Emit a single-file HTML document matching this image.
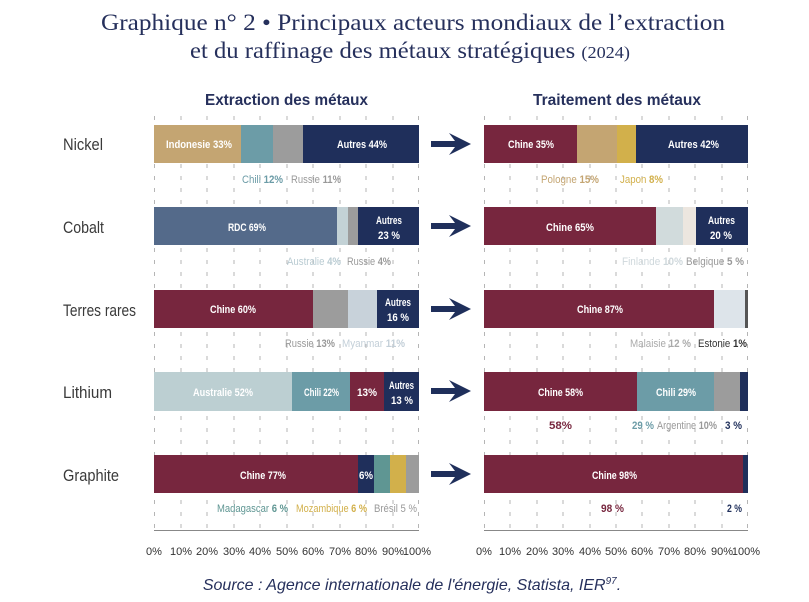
<!DOCTYPE html>
<html><head><meta charset="utf-8"><style>
body{margin:0;background:#fff}
svg{display:block}
.t{font-family:"Liberation Serif",serif;fill:#26305c;font-size:23px}
.h{font-family:"Liberation Sans",sans-serif;font-weight:bold;fill:#26305c;font-size:16px}
.r{font-family:"Liberation Sans",sans-serif;fill:#3a3a3a;font-size:17px}
.b{font-family:"Liberation Sans",sans-serif;fill:#fff;font-size:11px;font-weight:bold}
.a{font-family:"Liberation Sans",sans-serif;font-size:11px}
.a tspan.k{font-weight:bold}
.x{font-family:"Liberation Sans",sans-serif;font-size:11px;fill:#333}
.s{font-family:"Liberation Sans",sans-serif;font-style:italic;fill:#26305c;font-size:16px}
</style></head><body>
<svg width="809" height="602" viewBox="0 0 809 602" xmlns="http://www.w3.org/2000/svg">
<text class="t" x="101" y="30" textLength="624" lengthAdjust="spacingAndGlyphs">Graphique n° 2 • Principaux acteurs mondiaux de l’extraction</text>
<text class="t" x="190" y="58" textLength="440" lengthAdjust="spacingAndGlyphs">et du raffinage des métaux stratégiques <tspan font-size="17">(2024)</tspan></text>
<text class="h" x="205" y="105" textLength="163" lengthAdjust="spacingAndGlyphs">Extraction des métaux</text>
<text class="h" x="533" y="105" textLength="168" lengthAdjust="spacingAndGlyphs">Traitement des métaux</text>

<g stroke="#b5b5b5" stroke-width="1" stroke-dasharray="4,8">
<line x1="154.5" y1="116" x2="154.5" y2="530"/><line x1="181" y1="116" x2="181" y2="530"/><line x1="207" y1="116" x2="207" y2="530"/><line x1="234" y1="116" x2="234" y2="530"/><line x1="260" y1="116" x2="260" y2="530"/><line x1="287" y1="116" x2="287" y2="530"/><line x1="313" y1="116" x2="313" y2="530"/><line x1="340" y1="116" x2="340" y2="530"/><line x1="366" y1="116" x2="366" y2="530"/><line x1="393" y1="116" x2="393" y2="530"/><line x1="418.5" y1="116" x2="418.5" y2="530"/>
<line x1="484.5" y1="116" x2="484.5" y2="530"/><line x1="510" y1="116" x2="510" y2="530"/><line x1="537" y1="116" x2="537" y2="530"/><line x1="563" y1="116" x2="563" y2="530"/><line x1="590" y1="116" x2="590" y2="530"/><line x1="616" y1="116" x2="616" y2="530"/><line x1="642" y1="116" x2="642" y2="530"/><line x1="669" y1="116" x2="669" y2="530"/><line x1="695" y1="116" x2="695" y2="530"/><line x1="722" y1="116" x2="722" y2="530"/><line x1="747.5" y1="116" x2="747.5" y2="530"/>
</g>
<g stroke="#888" stroke-width="1">
<line x1="154" y1="530.5" x2="419" y2="530.5"/><line x1="484" y1="530.5" x2="748" y2="530.5"/>
</g>

<text class="r" x="63" y="150" textLength="40" lengthAdjust="spacingAndGlyphs">Nickel</text>
<text class="r" x="63" y="233" textLength="41" lengthAdjust="spacingAndGlyphs">Cobalt</text>
<text class="r" x="63" y="316" textLength="73" lengthAdjust="spacingAndGlyphs">Terres rares</text>
<text class="r" x="63" y="398" textLength="49" lengthAdjust="spacingAndGlyphs">Lithium</text>
<text class="r" x="63" y="481" textLength="56" lengthAdjust="spacingAndGlyphs">Graphite</text>

<!-- Nickel -->
<rect x="154" y="125" width="87" height="38" fill="#c4a572"/><rect x="241" y="125" width="32" height="38" fill="#6c9ca7"/><rect x="273" y="125" width="30" height="38" fill="#9c9c9c"/><rect x="303" y="125" width="116" height="38" fill="#1f2f5b"/>
<text class="b" x="166" y="148" textLength="66" lengthAdjust="spacingAndGlyphs">Indonesie 33%</text><text class="b" x="337" y="148" textLength="50" lengthAdjust="spacingAndGlyphs">Autres 44%</text>
<rect x="484" y="125" width="93" height="38" fill="#77263e"/><rect x="577" y="125" width="40" height="38" fill="#c4a572"/><rect x="617" y="125" width="19" height="38" fill="#d2b04b"/><rect x="636" y="125" width="112" height="38" fill="#1f2f5b"/>
<text class="b" x="508" y="148" textLength="46" lengthAdjust="spacingAndGlyphs">Chine 35%</text><text class="b" x="668" y="148" textLength="51" lengthAdjust="spacingAndGlyphs">Autres 42%</text>
<text class="a" x="242" y="183" fill="#6c9ca7" textLength="41" lengthAdjust="spacingAndGlyphs">Chili <tspan class="k">12%</tspan></text><text class="a" x="291" y="183" fill="#999" textLength="50" lengthAdjust="spacingAndGlyphs">Russie <tspan class="k">11%</tspan></text>
<text class="a" x="541" y="183" fill="#c4a572" textLength="58" lengthAdjust="spacingAndGlyphs">Pologne <tspan class="k">15%</tspan></text><text class="a" x="620" y="183" fill="#d2b04b" textLength="43" lengthAdjust="spacingAndGlyphs">Japon <tspan class="k">8%</tspan></text>

<!-- Cobalt -->
<rect x="154" y="207" width="183" height="38" fill="#546a8a"/><rect x="337" y="207" width="11" height="38" fill="#c3d2d6"/><rect x="348" y="207" width="10" height="38" fill="#9c9c9c"/><rect x="358" y="207" width="61" height="38" fill="#1f2f5b"/>
<text class="b" x="228" y="231" textLength="38" lengthAdjust="spacingAndGlyphs">RDC 69%</text><text class="b" x="376" y="224" textLength="26" lengthAdjust="spacingAndGlyphs">Autres</text><text class="b" x="378" y="239" textLength="22" lengthAdjust="spacingAndGlyphs">23 %</text>
<rect x="484" y="207" width="172" height="38" fill="#77263e"/><rect x="656" y="207" width="27" height="38" fill="#d1dbdc"/><rect x="683" y="207" width="13" height="38" fill="#ece6df"/><rect x="696" y="207" width="52" height="38" fill="#1f2f5b"/>
<text class="b" x="546" y="231" textLength="48" lengthAdjust="spacingAndGlyphs">Chine 65%</text><text class="b" x="708" y="224" textLength="27" lengthAdjust="spacingAndGlyphs">Autres</text><text class="b" x="710" y="239" textLength="22" lengthAdjust="spacingAndGlyphs">20 %</text>
<text class="a" x="287" y="265" fill="#b9cbd2" textLength="54" lengthAdjust="spacingAndGlyphs">Australie <tspan class="k">4%</tspan></text><text class="a" x="347" y="265" fill="#999" textLength="44" lengthAdjust="spacingAndGlyphs">Russie <tspan class="k">4%</tspan></text>
<text class="a" x="622" y="265" fill="#cfd8dc" textLength="61" lengthAdjust="spacingAndGlyphs">Finlande <tspan class="k">10%</tspan></text><text class="a" x="686" y="265" fill="#999" textLength="58" lengthAdjust="spacingAndGlyphs">Belgique <tspan class="k">5 %</tspan></text>

<!-- Terres rares -->
<rect x="154" y="290" width="159" height="38" fill="#77263e"/><rect x="313" y="290" width="35" height="38" fill="#9c9c9c"/><rect x="348" y="290" width="29" height="38" fill="#c8d2da"/><rect x="377" y="290" width="42" height="38" fill="#1f2f5b"/>
<text class="b" x="210" y="313" textLength="46" lengthAdjust="spacingAndGlyphs">Chine 60%</text><text class="b" x="385" y="306" textLength="26" lengthAdjust="spacingAndGlyphs">Autres</text><text class="b" x="387" y="321" textLength="22" lengthAdjust="spacingAndGlyphs">16 %</text>
<rect x="484" y="290" width="230" height="38" fill="#77263e"/><rect x="714" y="290" width="31" height="38" fill="#dde4ea"/><rect x="745" y="290" width="3" height="38" fill="#555"/>
<text class="b" x="577" y="313" textLength="46" lengthAdjust="spacingAndGlyphs">Chine 87%</text>
<text class="a" x="285" y="347" fill="#999" textLength="50" lengthAdjust="spacingAndGlyphs">Russie <tspan class="k">13%</tspan></text><text class="a" x="342" y="347" fill="#c3cfd8" textLength="63" lengthAdjust="spacingAndGlyphs">Myanmar <tspan class="k">11%</tspan></text>
<text class="a" x="630" y="347" fill="#aaa" textLength="61" lengthAdjust="spacingAndGlyphs">Malaisie <tspan class="k">12 %</tspan></text><text class="a" x="698" y="347" fill="#333" textLength="49" lengthAdjust="spacingAndGlyphs">Estonie <tspan class="k">1%</tspan></text>

<!-- Lithium -->
<rect x="154" y="372" width="138" height="39" fill="#bccfd2"/><rect x="292" y="372" width="58" height="39" fill="#6c9ca7"/><rect x="350" y="372" width="34" height="39" fill="#77263e"/><rect x="384" y="372" width="35" height="39" fill="#1f2f5b"/>
<text class="b" x="193" y="396" textLength="60" lengthAdjust="spacingAndGlyphs">Australie 52%</text><text class="b" x="304" y="396" textLength="35" lengthAdjust="spacingAndGlyphs">Chili 22%</text><text class="b" x="357" y="396" textLength="20" lengthAdjust="spacingAndGlyphs">13%</text><text class="b" x="389" y="389" textLength="25" lengthAdjust="spacingAndGlyphs">Autres</text><text class="b" x="391" y="404" textLength="22" lengthAdjust="spacingAndGlyphs">13 %</text>
<rect x="484" y="372" width="153" height="39" fill="#77263e"/><rect x="637" y="372" width="77" height="39" fill="#6c9ca7"/><rect x="714" y="372" width="26" height="39" fill="#9c9c9c"/><rect x="740" y="372" width="8" height="39" fill="#1f2f5b"/>
<text class="b" x="538" y="396" textLength="45" lengthAdjust="spacingAndGlyphs">Chine 58%</text><text class="b" x="656" y="396" textLength="40" lengthAdjust="spacingAndGlyphs">Chili 29%</text>
<text class="a" x="549" y="429" fill="#77263e" textLength="23" lengthAdjust="spacingAndGlyphs"><tspan class="k">58%</tspan></text><text class="a" x="632" y="429" fill="#6c9ca7" textLength="22" lengthAdjust="spacingAndGlyphs"><tspan class="k">29 %</tspan></text><text class="a" x="657" y="429" fill="#999" textLength="60" lengthAdjust="spacingAndGlyphs">Argentine <tspan class="k">10%</tspan></text><text class="a" x="725" y="429" fill="#1f2f5b" textLength="17" lengthAdjust="spacingAndGlyphs"><tspan class="k">3 %</tspan></text>

<!-- Graphite -->
<rect x="154" y="455" width="204" height="38" fill="#77263e"/><rect x="358" y="455" width="16" height="38" fill="#1f2f5b"/><rect x="374" y="455" width="16" height="38" fill="#5f9693"/><rect x="390" y="455" width="16" height="38" fill="#d2b04b"/><rect x="406" y="455" width="13" height="38" fill="#9c9c9c"/>
<text class="b" x="240" y="479" textLength="46" lengthAdjust="spacingAndGlyphs">Chine 77%</text><text class="b" x="359" y="479" textLength="14" lengthAdjust="spacingAndGlyphs">6%</text>
<rect x="484" y="455" width="259" height="38" fill="#77263e"/><rect x="743" y="455" width="5" height="38" fill="#1f2f5b"/>
<text class="b" x="592" y="479" textLength="45" lengthAdjust="spacingAndGlyphs">Chine 98%</text>
<text class="a" x="217" y="512" fill="#5f9693" textLength="71" lengthAdjust="spacingAndGlyphs">Madagascar <tspan class="k">6 %</tspan></text><text class="a" x="296" y="512" fill="#d2b04b" textLength="71" lengthAdjust="spacingAndGlyphs">Mozambique <tspan class="k">6 %</tspan></text><text class="a" x="374" y="512" fill="#999" textLength="43" lengthAdjust="spacingAndGlyphs">Brésil 5 %</text>
<text class="a" x="601" y="512" fill="#77263e" textLength="23" lengthAdjust="spacingAndGlyphs"><tspan class="k">98 %</tspan></text><text class="a" x="727" y="512" fill="#1f2f5b" textLength="15" lengthAdjust="spacingAndGlyphs"><tspan class="k">2 %</tspan></text>

<!-- arrows -->
<g fill="#1f2f5b">
<path d="M431 141 L455 141 L449 133 L471 144 L449 155 L455 147 L431 147 Z"/>
<path d="M431 223 L455 223 L449 215 L471 226 L449 237 L455 229 L431 229 Z"/>
<path d="M431 306 L455 306 L449 298 L471 309 L449 320 L455 312 L431 312 Z"/>
<path d="M431 388 L455 388 L449 380 L471 391 L449 402 L455 394 L431 394 Z"/>
<path d="M431 471 L455 471 L449 463 L471 474 L449 485 L455 477 L431 477 Z"/>
</g>

<g class="x" text-anchor="middle">
<text x="154" y="555">0%</text><text x="181" y="555">10%</text><text x="207" y="555">20%</text><text x="234" y="555">30%</text><text x="260" y="555">40%</text><text x="287" y="555">50%</text><text x="313" y="555">60%</text><text x="340" y="555">70%</text><text x="366" y="555">80%</text><text x="393" y="555">90%</text><text x="417" y="555">100%</text>
<text x="484" y="555">0%</text><text x="510" y="555">10%</text><text x="537" y="555">20%</text><text x="563" y="555">30%</text><text x="590" y="555">40%</text><text x="616" y="555">50%</text><text x="642" y="555">60%</text><text x="669" y="555">70%</text><text x="695" y="555">80%</text><text x="722" y="555">90%</text><text x="746" y="555">100%</text>
</g>
<text class="s" x="412" y="590" text-anchor="middle">Source : Agence internationale de l'énergie, Statista, IER<tspan font-size="10" dy="-6">97</tspan><tspan dy="6">.</tspan></text>
</svg>
</body></html>
